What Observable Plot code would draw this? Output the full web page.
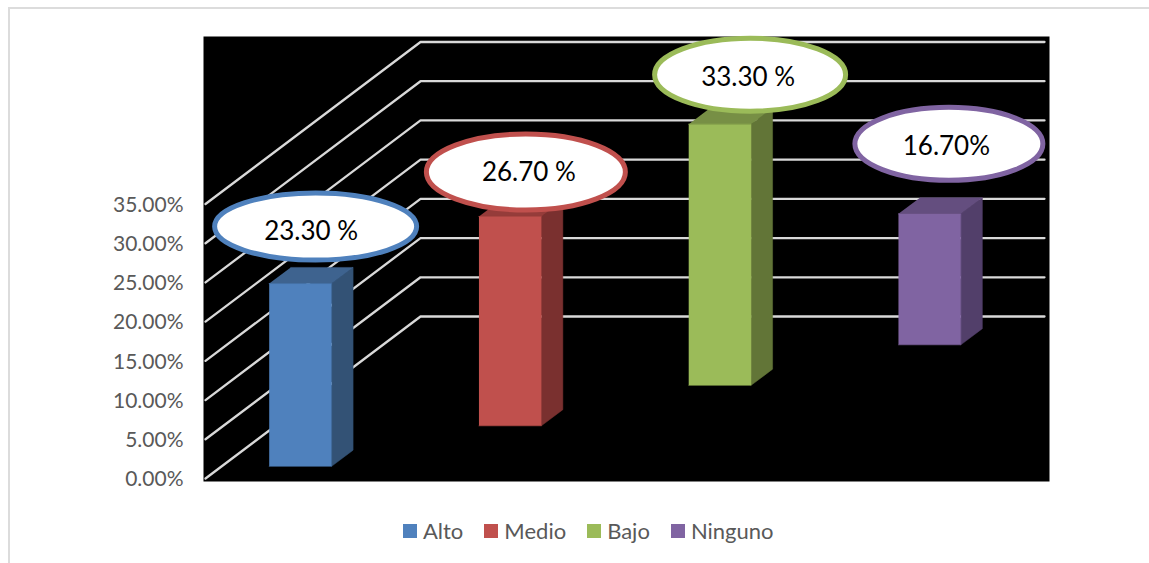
<!DOCTYPE html>
<html lang="es">
<head>
<meta charset="utf-8">
<script src="https://cdn.jsdelivr.net/npm/d3@7"></script>
<script src="https://cdn.jsdelivr.net/npm/@observablehq/plot@0.6"></script>
<style>
  html, body { margin: 0; background: #fff; }
  #page { position: relative; width: 1149px; height: 563px; overflow: hidden; font-family: Lato, sans-serif; }
  #edge { position: absolute; left: 8px; top: 7px; right: 0; bottom: 0; border-left: 2px solid #dcdcdc; border-top: 2px solid #dcdcdc; }
  #chart { position: absolute; left: 0; top: 0; }
  #legend { position: absolute; left: 403px; top: 518px; display: flex; align-items: center; height: 26px; color: #595959; font-size: 22px; }
  #legend span.item { display: flex; align-items: center; margin-right: 21px; }
  #legend span.item span { position: relative; top: -1px; }
  #legend i { display: block; width: 14px; height: 14px; margin-right: 6px; }
</style>
</head>
<body>
<div id="page">
  <div id="edge"></div>
  <div id="chart"></div>
  <div id="legend"></div>
</div>
<script>
// Nivel de cada categoría, en porcentaje
const categories = ["Alto", "Medio", "Bajo", "Ninguno"];
const values = [23.3, 26.7, 33.3, 16.7];
const valueLabels = ["23.30 %", "26.70 %", "33.30 %", "16.70%"];
const yTicks = [0, 5, 10, 15, 20, 25, 30, 35];

// Tonos de cara frontal, lateral y superior de cada columna
const frontColors = ["#4f81bd", "#c0504d", "#9bbb59", "#8064a2"];
const sideColors = ["#335275", "#7a302f", "#627537", "#523f6a"];
const topColors = ["#3e638f", "#953c3a", "#778f45", "#644e7f"];

// Globos de texto: desplazamiento desde la cara frontal y semiejes
const callouts = [
  {dx: 16, dy: -57, rx: 101, ry: 33.5, tx: -4.5, ty: 5},
  {dx: 16.5, dy: -44.5, rx: 99.5, ry: 38, tx: 3, ty: 1},
  {dx: 31, dy: -49.5, rx: 95.5, ry: 36.5, tx: -2, ty: 3},
  {dx: 20, dy: -70, rx: 94, ry: 36.5, tx: -2.5, ty: 2.5}
];

// Proyección oblicua: cada unidad de profundidad desplaza en x (categorías) y en y (%)
const skewX = 0.3446;
const skewY = 5.164;
const depthCount = categories.length;
const px = (p) => p.c + p.d * skewX;
const py = (p) => p.v + p.d * skewY;

// Líneas de cuadrícula: suelo oblicuo + pared del fondo
const grid = yTicks.flatMap((v) => [
  {v, c: 0, d: 0},
  {v, c: 0, d: depthCount},
  {v, c: categories.length, d: depthCount}
]);

// Caras de una columna situada en la celda i
function faces(i, v) {
  const c0 = i + 0.305, c1 = i + 0.705, d0 = i + 0.3, d1 = i + 0.7;
  return {
    front: [{c: c0, d: d0, v: 0}, {c: c1, d: d0, v: 0}, {c: c1, d: d0, v}, {c: c0, d: d0, v}],
    side: [{c: c1, d: d0, v: 0}, {c: c1, d: d1, v: 0}, {c: c1, d: d1, v}, {c: c1, d: d0, v}],
    top: [{c: c0, d: d0, v}, {c: c1, d: d0, v}, {c: c1, d: d1, v}, {c: c0, d: d1, v}]
  };
}

const columnMarks = categories.flatMap((name, i) => {
  const f = faces(i, values[i]);
  const face = (pts, fill) => Plot.line(pts, {x: px, y: py, fill, stroke: fill, strokeWidth: 0.5});
  return [face(f.side, sideColors[i]), face(f.top, topColors[i]), face(f.front, frontColors[i])];
});

// Contorno elíptico para usar como símbolo de Plot.dot
const ellipseSymbol = (rx, ry) => ({
  draw(ctx) {
    const k = 0.5523;
    ctx.moveTo(rx, 0);
    ctx.bezierCurveTo(rx, k * ry, k * rx, ry, 0, ry);
    ctx.bezierCurveTo(-k * rx, ry, -rx, k * ry, -rx, 0);
    ctx.bezierCurveTo(-rx, -k * ry, -k * rx, -ry, 0, -ry);
    ctx.bezierCurveTo(k * rx, -ry, rx, -k * ry, rx, 0);
    ctx.closePath();
  }
});

const calloutMarks = categories.flatMap((name, i) => {
  const s = callouts[i];
  const anchor = [{c: i + 0.5, d: i + 0.3, v: values[i]}];
  return [
    Plot.dot(anchor, {
      x: px, y: py, dx: s.dx, dy: s.dy, r: 10,
      symbol: ellipseSymbol(s.rx, s.ry),
      fill: "white", stroke: frontColors[i], strokeWidth: 5
    }),
    Plot.text(anchor, {
      x: px, y: py, dx: s.dx + s.tx, dy: s.dy + s.ty,
      text: () => valueLabels[i], fontSize: 26, fill: "black"
    })
  ];
});

const chart = Plot.plot({
  width: 1149,
  height: 505,
  marginLeft: 203,
  marginRight: 100,
  marginTop: 36,
  marginBottom: 24,
  style: {background: "transparent", fontFamily: "Lato, sans-serif"},
  x: {domain: [0, categories.length + depthCount * skewX], range: [205, 1044], axis: null},
  y: {domain: [0, 35], range: [478, 203.5]},
  marks: [
    Plot.frame({fill: "black"}),
    Plot.axisY({
      ticks: yTicks, tickSize: 0, tickPadding: 20, dy: 1, label: null, fontSize: 21, color: "#595959",
      tickFormat: (d) => d.toFixed(2) + "%"
    }),
    Plot.line(grid, {x: px, y: py, z: "v", stroke: "#d9d9d9", strokeWidth: 2.3}),
    ...columnMarks,
    ...calloutMarks
  ]
});
document.getElementById("chart").append(chart);

// Leyenda bajo el gráfico
const legend = d3.select("#legend");
categories.forEach((name, i) => {
  const item = legend.append("span").attr("class", "item");
  item.append("i").style("background", frontColors[i]);
  item.append("span").text(name);
});
</script>
</body>
</html>
